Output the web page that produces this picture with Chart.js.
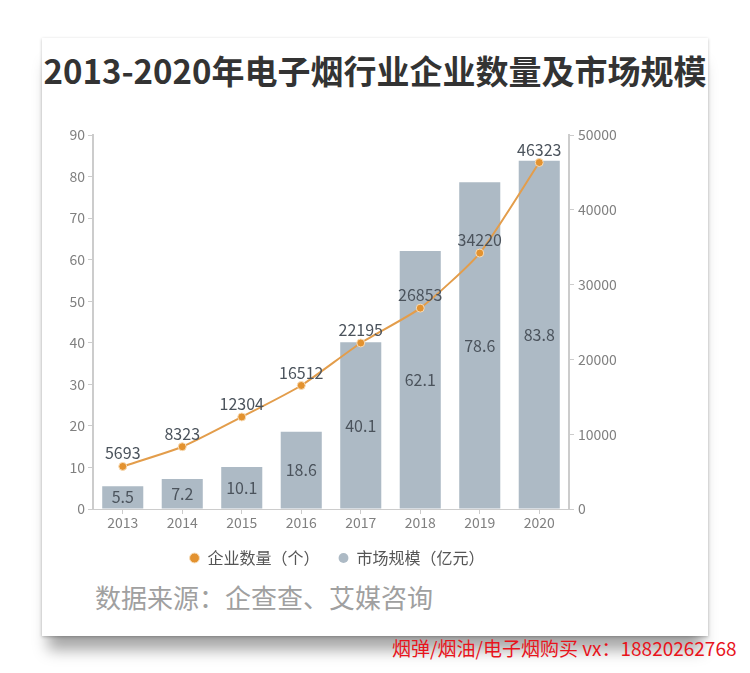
<!DOCTYPE html>
<html>
<head>
<meta charset="utf-8">
<script src="https://cdn.jsdelivr.net/npm/chart.js@4"></script>
<style>
    body { margin: 0; background: #fff; width: 750px; height: 673px; position: relative; overflow: hidden; font-family: "Noto Sans CJK SC", sans-serif; }
    .card { position: absolute; left: 42px; top: 38px; width: 666px; height: 598px; background: #fff; box-shadow: 0 1px 3px rgba(0,0,0,0.25), 0 20px 14px -6px rgba(0,0,0,0.35); }
    .title { position: absolute; left: 0; top: 48px; width: 750px; text-align: center; font-size: 33px; font-weight: bold; color: #333; line-height: 44px; }
    .chart-box { position: absolute; left: 0; top: 100px; width: 750px; height: 476px; }
    .source { position: absolute; left: 95px; top: 580px; font-size: 26px; color: #a0a0a0; line-height: 34px; }
    .mark { position: absolute; left: 392px; top: 635px; font-size: 19px; color: #e8141c; line-height: 26px; }
</style>
</head>
<body>
<div class="card"></div>
<div class="title">2013-2020年电子烟行业企业数量及市场规模</div>
<div class="chart-box"><canvas id="chart"></canvas></div>
<div class="source">数据来源：企查查、艾媒咨询</div>
<div class="mark">烟弹/烟油/电子烟购买 vx：18820262768</div>
<script>
const years = ['2013', '2014', '2015', '2016', '2017', '2018', '2019', '2020'];
const companyCount = [5693, 8323, 12304, 16512, 22195, 26853, 34220, 46323];
const marketSize = [5.5, 7.2, 10.1, 18.6, 40.1, 62.1, 78.6, 83.8];

const FONT = '"Noto Sans CJK SC", sans-serif';

// valeurs au-dessus des points et au milieu des barres
const valueLabels = {
    id: 'valueLabels',
    afterDatasetsDraw(chart) {
        const ctx = chart.ctx;
        ctx.save();
        ctx.font = '16px ' + FONT;
        ctx.fillStyle = '#4b535c';
        ctx.textAlign = 'center';
        ctx.textBaseline = 'middle';
        chart.data.datasets.forEach((ds, i) => {
            const meta = chart.getDatasetMeta(i);
            meta.data.forEach((el, j) => {
                const v = ds.data[j];
                if (meta.type === 'bar') {
                    ctx.fillText(v, el.x, (el.y + el.base) / 2);
                } else {
                    ctx.fillText(v, el.x, el.y - 13);
                }
            });
        });
        ctx.restore();
    }
};

new Chart(document.getElementById('chart'), {
    type: 'bar',
    data: {
        labels: years,
        datasets: [
            {
                type: 'line',
                label: '企业数量（个）',
                data: companyCount,
                yAxisID: 'y2',
                borderColor: '#e39d4b',
                backgroundColor: '#e8912c',
                borderWidth: 2,
                tension: 0.2,
                pointRadius: 4,
                pointBackgroundColor: '#e3922f',
                pointBorderColor: '#f7dcb8',
                pointBorderWidth: 1
            },
            {
                type: 'bar',
                label: '市场规模（亿元）',
                data: marketSize,
                yAxisID: 'y',
                backgroundColor: '#adbac5',
                barPercentage: 0.69,
                categoryPercentage: 1
            }
        ]
    },
    options: {
        responsive: true,
        maintainAspectRatio: false,
        animation: false,
        layout: { padding: { top: 35, right: 101, left: 25, bottom: 0 } },
        plugins: {
            tooltip: { enabled: false },
            legend: {
                position: 'bottom',
                labels: {
                    usePointStyle: true,
                    pointStyle: 'circle',
                    boxWidth: 10,
                    boxHeight: 7,
                    padding: 19,
                    color: '#555',
                    font: { family: FONT, size: 16 }
                }
            }
        },
        scales: {
            x: {
                grid: { display: true, drawOnChartArea: false, offset: false, color: '#cccccc', tickLength: 5 },
                border: { color: '#cccccc', width: 1 },
                ticks: { color: '#808080', font: { family: FONT, size: 14 }, padding: 0 },
                afterFit(scale) { scale.height = 22; }
            },
            y: {
                position: 'left',
                min: 0,
                max: 90,
                ticks: { stepSize: 10, color: '#808080', font: { family: FONT, size: 14 }, padding: 3 },
                grid: { drawOnChartArea: false, color: '#cccccc', tickLength: 5 },
                border: { color: '#cccccc', width: 2 },
                afterFit(scale) { scale.width = 68; }
            },
            y2: {
                position: 'right',
                min: 0,
                max: 50000,
                ticks: { stepSize: 10000, color: '#808080', font: { family: FONT, size: 14 }, padding: 4, callback: v => String(v) },
                grid: { drawOnChartArea: false, color: '#cccccc', tickLength: 5 },
                border: { color: '#cccccc', width: 2 },
                afterFit(scale) { scale.width = 80; }
            }
        }
    },
    plugins: [valueLabels]
});
</script>
</body>
</html>
